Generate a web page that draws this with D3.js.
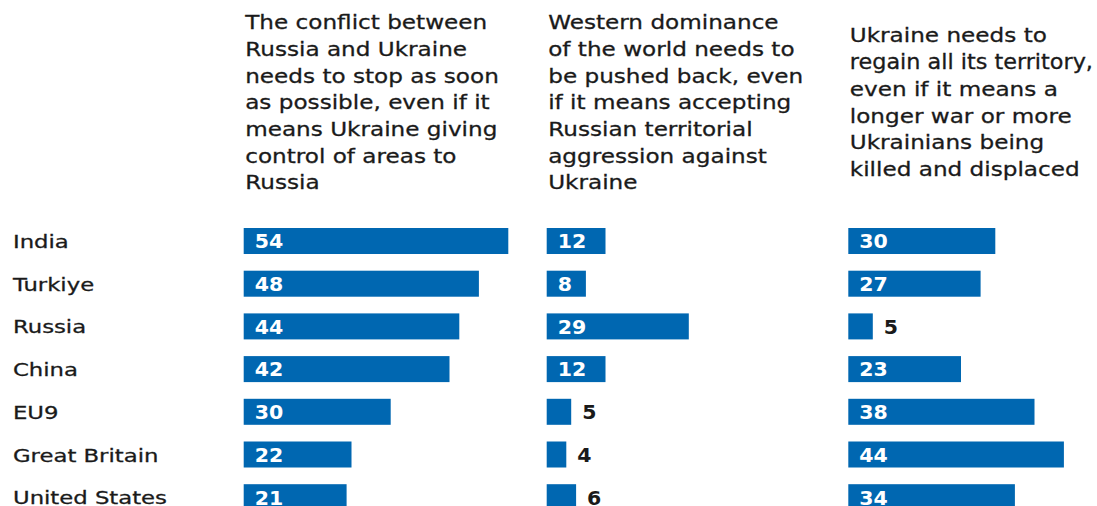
<!DOCTYPE html>
<html>
<head>
<meta charset="utf-8">
<script src="https://cdn.jsdelivr.net/npm/d3@7"></script>
<style>
  html, body { margin: 0; padding: 0; background: #fff; }
  svg { display: block; }
  text { font-family: "DejaVu Sans", sans-serif; }
</style>
</head>
<body>
<svg id="chart" width="1097" height="506"></svg>
<script>
const countries = ["India", "Turkiye", "Russia", "China", "EU9", "Great Britain", "United States"];
const stopConflict = [54, 48, 44, 42, 30, 22, 21];
const westernDominance = [12, 8, 29, 12, 5, 4, 6];
const regainTerritory = [30, 27, 5, 23, 38, 44, 34];
const headers = [
  ["The conflict between", "Russia and Ukraine", "needs to stop as soon", "as possible, even if it", "means Ukraine giving", "control of areas to", "Russia"],
  ["Western dominance", "of the world needs to", "be pushed back, even", "if it means accepting", "Russian territorial", "aggression against", "Ukraine"],
  ["Ukraine needs to", "regain all its territory,", "even if it means a", "longer war or more", "Ukrainians being", "killed and displaced"]
];
const series = [stopConflict, westernDominance, regainTerritory];

const svg = d3.select("#chart");
const W = 1097;
const panelX = [243.7, 546.7, 848.3];
const barColor = "#0067b1";
const textColor = "#1a1a1a";

const x = d3.scaleLinear().domain([0, 100]).range([0, 490]);
const step = 42.7, pin = 0.391;
const y = d3.scaleBand().domain(countries)
  .range([228 - step * pin / 2, 228 - step * pin / 2 + countries.length * step])
  .paddingInner(pin).paddingOuter(pin / 2);

// country labels
svg.append("g").selectAll("text").data(countries).join("text")
  .attr("transform", d => `translate(13,${y(d) + y.bandwidth() / 2 + 7}) scale(1.23,1)`)
  .attr("font-size", 18.5)
  .attr("fill", textColor)
  .attr("stroke", textColor)
  .attr("stroke-width", 0.3)
  .text(d => d);

// headers
const lineH = 26.7, midBaseline = 109.2;
headers.forEach((lines, i) => {
  const first = midBaseline - (lines.length - 1) * lineH / 2;
  const x0 = panelX[i] + 1.5;
  const maxW = (i < 2 ? panelX[i + 1] - 12 : W - 4) - x0;
  svg.append("g").selectAll("text").data(lines).join("text")
    .attr("font-size", 20.3)
    .attr("fill", textColor)
    .attr("stroke", textColor)
    .attr("stroke-width", 0.3)
    .text(d => d)
    .attr("transform", function (d, j) {
      const w = this.getComputedTextLength();
      const s = Math.min(1.14, maxW / w);
      return `translate(${x0},${first + j * lineH}) scale(${s},1)`;
    });
});

// bars
series.forEach((vals, i) => {
  const data = countries.map((c, k) => ({ c, v: vals[k] }));
  const g = svg.append("g").attr("transform", `translate(${panelX[i]},0)`);
  g.selectAll("rect").data(data).join("rect")
    .attr("x", 0)
    .attr("y", d => y(d.c))
    .attr("width", d => x(d.v))
    .attr("height", y.bandwidth())
    .attr("fill", barColor);
  g.selectAll("text").data(data).join("text")
    .attr("transform", d => `translate(${d.v <= 6 ? x(d.v) + 11 : 11},${y(d.c) + y.bandwidth() / 2 + 7.3}) scale(1.05,1)`)
    .attr("font-size", 19.5)
    .attr("font-weight", "bold")
    .attr("fill", d => d.v <= 6 ? textColor : "#fff")
    .text(d => d.v);
});
</script>
</body>
</html>
